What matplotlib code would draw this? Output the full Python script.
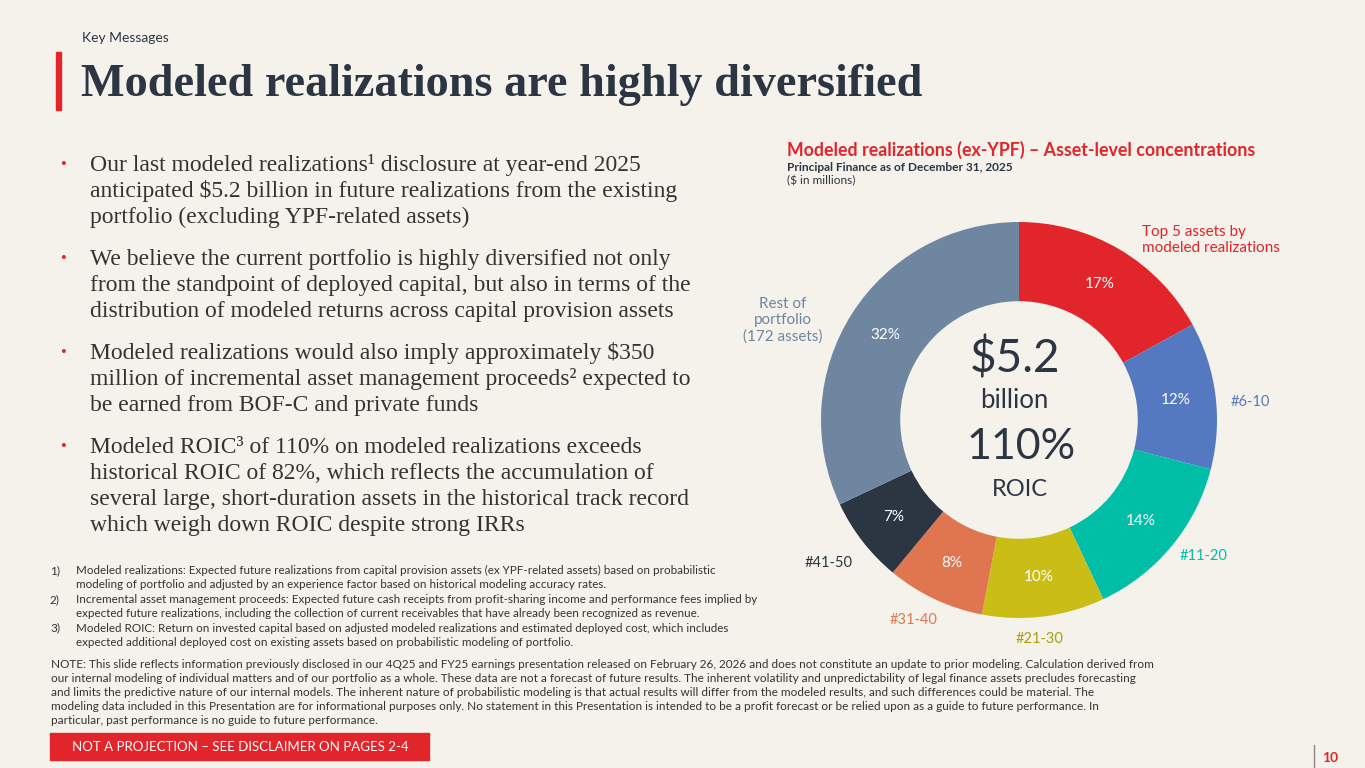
import matplotlib.pyplot as plt
from matplotlib.patches import Rectangle

# donut data (share of modeled realizations, %)
segments = ["Top 5", "#6-10", "#11-20", "#21-30", "#31-40", "#41-50", "Rest of portfolio"]
shares = [17, 12, 14, 10, 8, 7, 32]
colors = ["#E1252A", "#5479C1", "#00BFA6", "#C9BD16", "#E07650", "#2B3642", "#6E86A0"]

bullets = [
    ["Our last modeled realizations\u00b9 disclosure at year-end 2025",
     "anticipated $5.2 billion in future realizations from the existing",
     "portfolio (excluding YPF-related assets)"],
    ["We believe the current portfolio is highly diversified not only",
     "from the standpoint of deployed capital, but also in terms of the",
     "distribution of modeled returns across capital provision assets"],
    ["Modeled realizations would also imply approximately $350",
     "million of incremental asset management proceeds\u00b2 expected to",
     "be earned from BOF-C and private funds"],
    ["Modeled ROIC\u00b3 of 110% on modeled realizations exceeds",
     "historical ROIC of 82%, which reflects the accumulation of",
     "several large, short-duration assets in the historical track record",
     "which weigh down ROIC despite strong IRRs"],
]

footnotes = [
    ("1)", ["Modeled realizations: Expected future realizations from capital provision assets (ex YPF-related assets) based on probabilistic",
            "modeling of portfolio and adjusted by an experience factor based on historical modeling accuracy rates."]),
    ("2)", ["Incremental asset management proceeds: Expected future cash receipts from profit-sharing income and performance fees implied by",
            "expected future realizations, including the collection of current receivables that have already been recognized as revenue."]),
    ("3)", ["Modeled ROIC: Return on invested capital based on adjusted modeled realizations and estimated deployed cost, which includes",
            "expected additional deployed cost on existing assets based on probabilistic modeling of portfolio."]),
]

note_lines = [
    "NOTE: This slide reflects information previously disclosed in our 4Q25 and FY25 earnings presentation released on February 26, 2026 and does not constitute an update to prior modeling. Calculation derived from",
    "our internal modeling of individual matters and of our portfolio as a whole. These data are not a forecast of future results. The inherent volatility and unpredictability of legal finance assets precludes forecasting",
    "and limits the predictive nature of our internal models. The inherent nature of probabilistic modeling is that actual results will differ from the modeled results, and such differences could be material. The",
    "modeling data included in this Presentation are for informational purposes only. No statement in this Presentation is intended to be a profit forecast or be relied upon as a guide to future performance. In",
    "particular, past performance is no guide to future performance.",
]

BG = "#F5F2EB"
DARK = "#2B3642"
RED = "#E1252A"
SANS = "Lato"
SERIF = "Liberation Serif"
W, H = 1365, 768

fig = plt.figure(figsize=(13.65, 7.68), dpi=100, facecolor=BG)
ax = fig.add_axes([0, 0, 1, 1])
ax.set_xlim(0, W)
ax.set_ylim(H, 0)
ax.axis("off")

# header
ax.text(82, 42, "Key Messages", fontsize=10, family=SANS, color=DARK)
ax.add_patch(Rectangle((56, 52), 5, 58, color=RED))
ax.text(81, 96, "Modeled realizations are highly diversified", fontsize=33.3,
        family=SERIF, weight="bold", color=DARK)

# bullets
y = 171
for lines in bullets:
    ax.text(60, y - 2, "\u2022", fontsize=12, color=RED, family=SERIF)
    for ln in lines:
        ax.text(90, y, ln, fontsize=17, family=SERIF, color="#333333")
        y += 26
    y += 16

# footnotes
y = 574
for num, lines in footnotes:
    ax.text(50, y, num, fontsize=8.5, family=SANS, color="#333333")
    for ln in lines:
        ax.text(76, y, ln, fontsize=8.4, family=SANS, color="#333333")
        y += 14.4

y = 668
for ln in note_lines:
    ax.text(51, y, ln, fontsize=8.45, family=SANS, color="#333333")
    y += 14

ax.add_patch(Rectangle((50, 733), 379, 27, color=RED))
ax.text(240, 747, "NOT A PROJECTION \u2013 SEE DISCLAIMER ON PAGES 2-4", fontsize=9.5,
        family=SANS, color="white", ha="center", va="center")
ax.plot([1314, 1314], [745, 768], color="#888888", lw=1)
ax.text(1322, 762, "10", fontsize=10, family=SANS, weight="bold", color=RED)

# chart titles
ax.text(787, 156, "Modeled realizations (ex-YPF) \u2013 Asset-level concentrations",
        fontsize=12.8, family=SANS, weight="bold", color=RED)
ax.text(787, 171, "Principal Finance as of December 31, 2025", fontsize=8.6,
        family=SANS, weight="bold", color=DARK)
ax.text(787, 184, "($ in millions)", fontsize=8.6, family=SANS, color=DARK)

# donut
cx, cy, r = 1019, 420, 198
pa = fig.add_axes([(cx - r) / W, (H - cy - r) / H, 2 * r / W, 2 * r / H])
pa.set_facecolor("none")
wedges, _, pcts = pa.pie(shares, colors=colors, startangle=90, counterclock=False,
                         wedgeprops=dict(width=0.4, edgecolor="none"),
                         autopct=lambda p: f"{p:.0f}%", pctdistance=0.8)
for t in pcts:
    t.set_color("white")
    t.set_fontsize(11)
    t.set_family(SANS)
pa.set_xlim(-1, 1)
pa.set_ylim(-1, 1)
pa.set_aspect("equal")
pa.axis("off")

# centre text
ax.text(cx - 4, 358, "$5.2", fontsize=33, family=SANS, color=DARK, ha="center", va="center")
ax.text(cx - 5, 401, "billion", fontsize=18.5, family=SANS, color=DARK, ha="center", va="center")
ax.text(cx + 2, 447, "110%", fontsize=31, family=SANS, color=DARK, ha="center", va="center")
ax.text(cx + 1, 489, "ROIC", fontsize=17, family=SANS, color=DARK, ha="center", va="center")

# outer labels
ax.text(1142, 240, "Top 5 assets by\nmodeled realizations", fontsize=11, family=SANS,
        color=RED, va="center", linespacing=1.2)
ax.text(1231, 402, "#6-10", fontsize=10.5, family=SANS, color=colors[1], va="center")
ax.text(1180, 556, "#11-20", fontsize=10.5, family=SANS, color=colors[2], va="center")
ax.text(1040, 639, "#21-30", fontsize=10.5, family=SANS, color="#A89E10", ha="center", va="center")
ax.text(914, 620, "#31-40", fontsize=10.5, family=SANS, color=colors[4], ha="center", va="center")
ax.text(829, 563, "#41-50", fontsize=10.5, family=SANS, color=DARK, ha="center", va="center")
ax.text(783, 320, "Rest of\nportfolio\n(172 assets)", fontsize=11, family=SANS,
        color=colors[6], ha="center", va="center", linespacing=1.2)

fig.savefig("out.png", dpi=100, facecolor=BG)
